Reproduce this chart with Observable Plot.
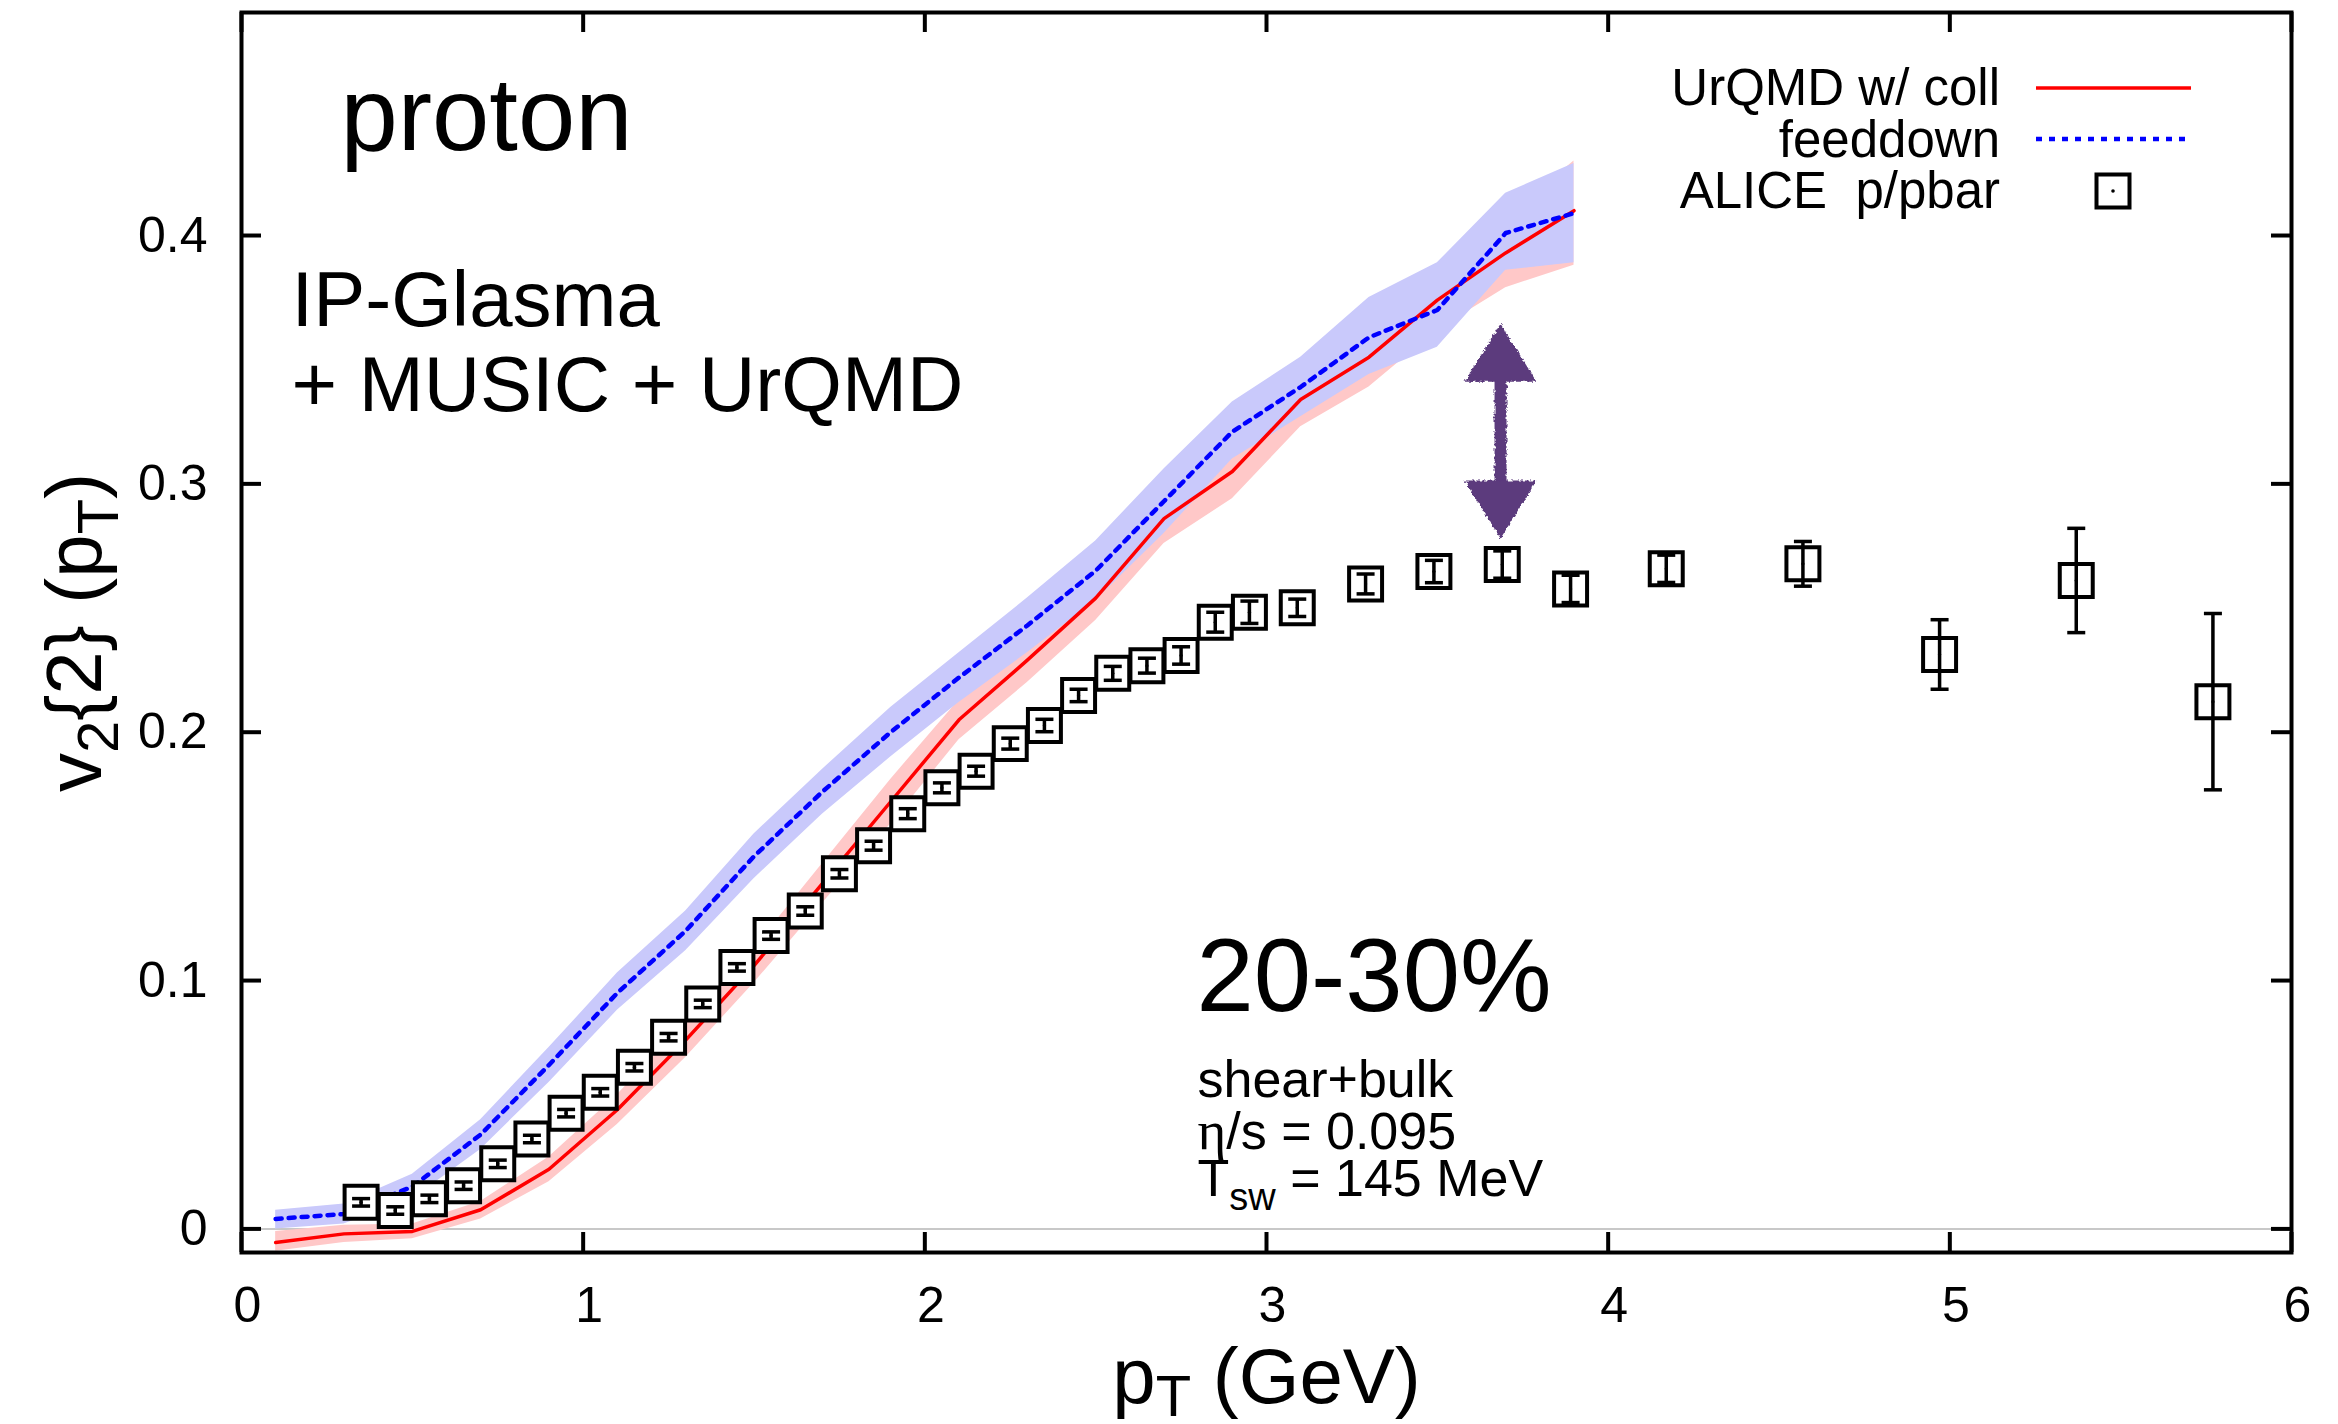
<!DOCTYPE html>
<html>
<head>
<meta charset="utf-8">
<script src="https://cdn.jsdelivr.net/npm/d3@7"></script>
<script src="https://cdn.jsdelivr.net/npm/@observablehq/plot@0.6"></script>
<style>
  html, body { margin: 0; padding: 0; background: #fff; }
  #chart { position: relative; width: 2338px; height: 1424px; }
</style>
</head>
<body>
<div id="chart"></div>
<script>
// ---------------- data ----------------
const linePt    = [0.1, 0.3, 0.5, 0.7, 0.9, 1.1, 1.3, 1.5, 1.7, 1.9, 2.1, 2.3, 2.5, 2.7, 2.9, 3.1, 3.3, 3.5, 3.7, 3.9];
const urqmdV2   = [-0.0055, -0.002, -0.001, 0.0077, 0.024, 0.048, 0.076, 0.106, 0.139, 0.172, 0.205, 0.229, 0.254, 0.286, 0.305, 0.334, 0.351, 0.374, 0.393, 0.410];
const urqmdLow  = [-0.009, -0.0055, -0.004, 0.004, 0.019, 0.042, 0.069, 0.099, 0.131, 0.163, 0.197, 0.220, 0.245, 0.276, 0.294, 0.323, 0.339, 0.362, 0.379, 0.388];
const urqmdHigh = [-0.001, 0.0015, 0.002, 0.011, 0.029, 0.054, 0.083, 0.113, 0.147, 0.181, 0.213, 0.238, 0.263, 0.296, 0.316, 0.345, 0.363, 0.386, 0.407, 0.430];
const feedV2    = [0.004, 0.006, 0.017, 0.038, 0.066, 0.095, 0.120, 0.150, 0.176, 0.200, 0.222, 0.243, 0.265, 0.293, 0.321, 0.339, 0.359, 0.370, 0.401, 0.409];
const feedLow   = [0.0, 0.002, 0.012, 0.032, 0.059, 0.088, 0.112, 0.141, 0.167, 0.190, 0.212, 0.232, 0.253, 0.280, 0.310, 0.327, 0.344, 0.355, 0.386, 0.389];
const feedHigh  = [0.0075, 0.010, 0.022, 0.044, 0.073, 0.103, 0.128, 0.159, 0.185, 0.210, 0.232, 0.254, 0.277, 0.306, 0.333, 0.351, 0.375, 0.389, 0.417, 0.429];

const alicePt  = [0.35, 0.45, 0.55, 0.65, 0.75, 0.85, 0.95, 1.05, 1.15, 1.25, 1.35, 1.45, 1.55, 1.65, 1.75, 1.85, 1.95, 2.05, 2.15, 2.25, 2.35, 2.45, 2.55, 2.65, 2.75, 2.85, 2.95, 3.09, 3.29, 3.49, 3.69, 3.89, 4.17, 4.57, 4.97, 5.37, 5.77];
const aliceV2  = [0.0107, 0.0074, 0.0121, 0.0174, 0.0262, 0.0362, 0.0466, 0.055, 0.0651, 0.0772, 0.0906, 0.1053, 0.1181, 0.128, 0.143, 0.1543, 0.1672, 0.1776, 0.1843, 0.1954, 0.2027, 0.2148, 0.2237, 0.2268, 0.2309, 0.2443, 0.2483, 0.2501, 0.2597, 0.2647, 0.2675, 0.2577, 0.2658, 0.2678, 0.2313, 0.2611, 0.2123];
const aliceErr = [0.0015, 0.0015, 0.0015, 0.0015, 0.0015, 0.0015, 0.0015, 0.0015, 0.0015, 0.0015, 0.0015, 0.0015, 0.0015, 0.0017, 0.0017, 0.0018, 0.002, 0.002, 0.002, 0.0022, 0.0025, 0.0025, 0.0028, 0.003, 0.0035, 0.004, 0.0045, 0.0035, 0.004, 0.0045, 0.0055, 0.0055, 0.0055, 0.009, 0.014, 0.021, 0.0355];

const arrowPt = [3.685];
const arrowLow = [0.278];
const arrowHigh = [0.3645];

const xTicks = [0, 1, 2, 3, 4, 5, 6];
const yTicks = [0, 0.1, 0.2, 0.3, 0.4];
const legendLabels = ["UrQMD w/ coll", "feeddown", "ALICE  p/pbar"];

// ---------------- layout / style ----------------
const FONT = '"Liberation Sans", Arial, Helvetica, sans-serif';
const W = 2338, H = 1424, mL = 241, mR = 47, mT = 12, mB = 172;
const innerW = W - mL - mR, innerH = H - mT - mB;
const tickLen = 20;
const RED = "#ff0000", BLUE = "#0000ff", PINK = "#ffc8c8", LAV = "#c9c9fb", PURPLE = "#5b3b7d";

const lines = linePt.map((x, i) => ({x, red: urqmdV2[i], redLo: urqmdLow[i], redHi: urqmdHigh[i],
  blue: feedV2[i], blueLo: feedLow[i], blueHi: feedHigh[i]}));
const alice = alicePt.map((x, i) => ({x, y: aliceV2[i], lo: aliceV2[i] - aliceErr[i], hi: aliceV2[i] + aliceErr[i]}));
const arrow = arrowPt.map((x, i) => ({x, lo: arrowLow[i], hi: arrowHigh[i]}));

const capSymbol = {draw(ctx) { ctx.moveTo(-9, 0); ctx.lineTo(9, 0); }};
const upHead = {draw(ctx) { ctx.moveTo(0, 0); ctx.lineTo(-36, 58); ctx.lineTo(36, 58); ctx.closePath(); }};
const downHead = {draw(ctx) { ctx.moveTo(0, 0); ctx.lineTo(-36, -58); ctx.lineTo(36, -58); ctx.closePath(); }};

const txt = (s, o) => Plot.text([s], {text: d => d, fontFamily: FONT, fill: "#000", textAnchor: "start", lineAnchor: "bottom", frameAnchor: "top-left", ...o});

const plot = Plot.plot({
  width: W, height: H,
  marginLeft: mL, marginRight: mR, marginTop: mT, marginBottom: mB,
  x: {domain: [0, 6]},
  y: {domain: [-0.0095, 0.4898]},
  style: {fontFamily: FONT, background: "#fff", color: "#000", overflow: "visible"},
  marks: [
    Plot.ruleY([0], {stroke: "#c8c8c8", strokeWidth: 2}),
    Plot.areaY(lines, {x: "x", y1: "redLo", y2: "redHi", fill: PINK}),
    Plot.areaY(lines, {x: "x", y1: "blueLo", y2: "blueHi", fill: LAV}),
    Plot.line(lines, {x: "x", y: "red", stroke: RED, strokeWidth: 3.5}),
    Plot.line(lines, {x: "x", y: "blue", stroke: BLUE, strokeWidth: 4.5, strokeDasharray: "6,7"}),
    Plot.dot(alice, {x: "x", y: "y", symbol: "square", r: 18.6, fill: "#fff", stroke: "#000", strokeWidth: 4}),
    Plot.ruleX(alice, {x: "x", y1: "hi", y2: "lo", stroke: "#000", strokeWidth: 3.5}),
    Plot.dot(alice, {x: "x", y: "hi", symbol: capSymbol, fill: "none", stroke: "#000", strokeWidth: 3.5}),
    Plot.dot(alice, {x: "x", y: "lo", symbol: capSymbol, fill: "none", stroke: "#000", strokeWidth: 3.5}),
    Plot.dot(alice, {x: "x", y: "y", r: 1.6, fill: "#000", stroke: "none"}),
    // purple double arrow (hand-drawn look)
    Plot.ruleX(arrow, {x: "x", y1: "hi", y2: "lo", stroke: PURPLE, strokeWidth: 12, insetTop: 50, insetBottom: 50, className: "rough"}),
    Plot.dot(arrow, {x: "x", y: "hi", symbol: upHead, fill: PURPLE, stroke: "none", className: "rough"}),
    Plot.dot(arrow, {x: "x", y: "lo", symbol: downHead, fill: PURPLE, stroke: "none", className: "rough"}),
    // inward ticks on all four sides
    Plot.tickX(xTicks, {x: d => d, insetTop: innerH - tickLen, strokeWidth: 4, stroke: "#000"}),
    Plot.tickX(xTicks, {x: d => d, insetBottom: innerH - tickLen, strokeWidth: 4, stroke: "#000"}),
    Plot.tickY(yTicks, {y: d => d, insetRight: innerW - tickLen, strokeWidth: 4, stroke: "#000"}),
    Plot.tickY(yTicks, {y: d => d, insetLeft: innerW - tickLen, strokeWidth: 4, stroke: "#000"}),
    Plot.axisX(xTicks, {tickSize: 0, tickPadding: 34, fontSize: 50, dx: 6, tickFormat: d => String(d), label: null, fontFamily: FONT}),
    Plot.axisY(yTicks, {tickSize: 0, tickPadding: 34, fontSize: 50, tickFormat: d => String(d), label: null, fontFamily: FONT}),
    Plot.frame({stroke: "#000", strokeWidth: 4}),
    // axis titles
    Plot.text(["pT (GeV)"], {text: d => d, frameAnchor: "bottom", dy: 150, lineAnchor: "bottom", textAnchor: "middle", fontSize: 78, fontFamily: FONT, fill: "#000"}),
    Plot.text(["v2{2} (pT)"], {text: d => d, frameAnchor: "left", dx: -141, rotate: -90, lineAnchor: "bottom", textAnchor: "middle", fontSize: 78, fontFamily: FONT, fill: "#000"}),
    // annotations
    txt("proton", {dx: 99, dy: 137, fontSize: 103}),
    txt("IP-Glasma", {dx: 50, dy: 313, fontSize: 78}),
    txt("+ MUSIC + UrQMD", {dx: 50, dy: 398, fontSize: 78}),
    txt("20-30%", {dx: 955, dy: 998, fontSize: 103}),
    txt("shear+bulk", {dx: 956, dy: 1084, fontSize: 52}),
    txt("η/s = 0.095", {dx: 956, dy: 1136, fontSize: 52}),
    txt("Tsw = 145 MeV", {dx: 956, dy: 1183, fontSize: 52})
  ]
});

// rough texture filter for the hand-drawn arrow (user-space region so thin shapes are not clipped)
const defs = d3.select(plot).insert("defs", ":first-child");
const flt = defs.append("filter").attr("id", "roughen").attr("filterUnits", "userSpaceOnUse")
  .attr("x", 0).attr("y", 0).attr("width", W).attr("height", H);
flt.append("feTurbulence").attr("type", "fractalNoise").attr("baseFrequency", 0.35).attr("numOctaves", 2).attr("seed", 3).attr("result", "noise");
flt.append("feDisplacementMap").attr("in", "SourceGraphic").attr("in2", "noise").attr("scale", 5)
  .attr("xChannelSelector", "R").attr("yChannelSelector", "G");
d3.select(plot).selectAll(".rough").attr("filter", "url(#roughen)");

// rich text (subscripts, symbol font)
const rich = {
  "pT (GeV)": {fs: 78, shift: 0.17, parts: [["p"], ["T", "sub"], [" (GeV)"]]},
  "v2{2} (pT)": {fs: 78, shift: 0.22, parts: [["v"], ["2", "sub"], ["{2} (p"], ["T", "sub"], [")"]]},
  "Tsw = 145 MeV": {fs: 52, shift: 0.27, parts: [["T"], ["sw", "sub"], [" = 145 MeV"]]},
  "η/s = 0.095": {fs: 52, shift: 0, parts: [["η", "serif"], ["/s = 0.095"]]}
};
d3.select(plot).selectAll("text").each(function () {
  const r = rich[this.textContent];
  if (!r) return;
  const fs = r.fs;
  const sel = d3.select(this);
  sel.text(null);
  let shifted = 0;
  for (const [s, kind] of r.parts) {
    const t = sel.append("tspan").text(s);
    if (kind === "sub") {
      const sh = Math.round(fs * r.shift);
      t.attr("font-size", Math.round(fs * 0.74)).attr("dy", sh - shifted);
      shifted = sh;
    } else {
      if (shifted) { t.attr("dy", -shifted); shifted = 0; }
      if (kind === "serif") t.attr("font-family", '"Liberation Serif", "DejaVu Serif", serif').attr("font-size", Math.round(fs * 1.05));
    }
  }
});

// legend (inside frame, top right)
const lg = d3.select(plot).append("g").attr("font-family", FONT).attr("font-size", 51);
const rowBase = [105, 157, 208];
const rowMid = [88, 139, 191];
legendLabels.forEach((lab, i) => {
  lg.append("text").attr("x", 2000).attr("y", rowBase[i]).attr("text-anchor", "end")
    .style("white-space", "pre").attr("fill", "#000").text(lab);
});
lg.append("line").attr("x1", 2036).attr("x2", 2191).attr("y1", rowMid[0]).attr("y2", rowMid[0])
  .attr("stroke", RED).attr("stroke-width", 3.5);
lg.append("line").attr("x1", 2036).attr("x2", 2191).attr("y1", rowMid[1]).attr("y2", rowMid[1])
  .attr("stroke", BLUE).attr("stroke-width", 4.5).attr("stroke-dasharray", "6,7");
lg.append("rect").attr("x", 2113 - 16.5).attr("y", rowMid[2] - 16.5).attr("width", 33).attr("height", 33)
  .attr("fill", "#fff").attr("stroke", "#000").attr("stroke-width", 4);
lg.append("circle").attr("cx", 2113).attr("cy", rowMid[2]).attr("r", 1.8).attr("fill", "#000");

document.getElementById("chart").appendChild(plot);
</script>
</body>
</html>
